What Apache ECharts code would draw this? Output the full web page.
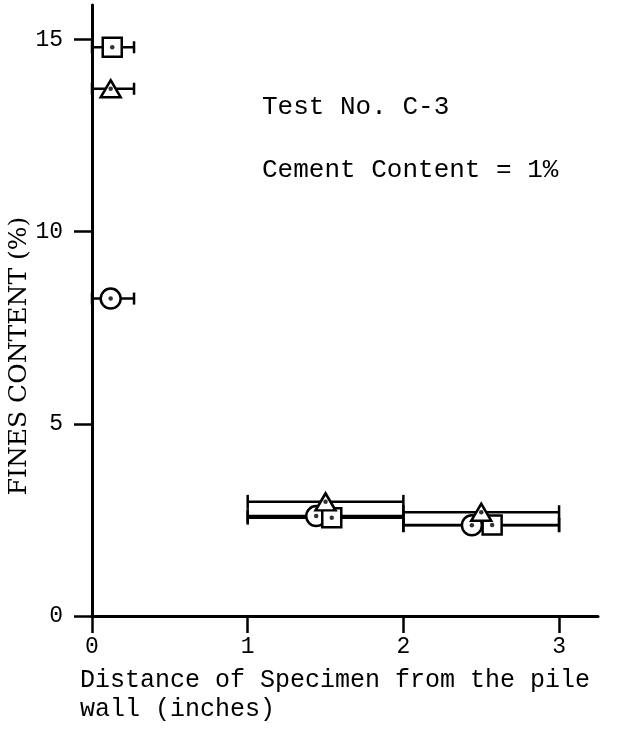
<!DOCTYPE html>
<html>
<head>
<meta charset="utf-8">
<script src="https://cdn.jsdelivr.net/npm/echarts@6/dist/echarts.min.js"></script>
<style>
    html, body {margin: 0; padding: 0; background: #fff;}
    #chart {width: 637px; height: 730px;}
</style>
</head>
<body>
<div id="chart"></div>
<script>
// distance from pile wall (inches) / fines content (%)
var squareX = [0.13, 1.54, 2.57];
var squareY = [14.8, 2.56, 2.37];
var triangleX = [0.12, 1.50, 2.50];
var triangleY = [13.72, 2.97, 2.70];
var circleX = [0.12, 1.44, 2.44];
var circleY = [8.26, 2.60, 2.36];
// horizontal span each specimen covers
var rangeFrom = [0, 1, 2];
var rangeTo = [0.27, 2, 3];
var xTicks = [0, 1, 2, 3];
var yTicks = [0, 5, 10, 15];

var mono = '"Liberation Mono", "DejaVu Sans Mono", monospace';

function pairs(xs, ys) {
    return xs.map(function (x, i) { return [x, ys[i]]; });
}
function spans(ys) {
    return ys.map(function (y, i) { return [rangeFrom[i], rangeTo[i], y]; });
}

/**horizontal range bar with end caps*/
function renderRange(params, api) {
    var a = api.coord([api.value(0), api.value(2)]);
    var b = api.coord([api.value(1), api.value(2)]);
    var h = api.value(1) < 1 ? 6 : 7;
    var st = {stroke: '#000', lineWidth: 2.5};
    return {
        type: 'group',
        children: [
            {type: 'line', shape: {x1: a[0], y1: a[1], x2: b[0], y2: b[1]}, style: st},
            {type: 'line', shape: {x1: a[0], y1: a[1] - h, x2: a[0], y2: a[1] + h}, style: st},
            {type: 'line', shape: {x1: b[0], y1: b[1] - h, x2: b[0], y2: b[1] + h}, style: st}
        ]
    };
}

function rangeSeries(ys) {
    return {
        type: 'custom',
        renderItem: renderRange,
        data: spans(ys),
        encode: {x: [0, 1], y: 2},
        z: 1,
        silent: true
    };
}

function markerSeries(xs, ys, symbol, size) {
    return {
        type: 'scatter',
        symbol: symbol,
        symbolSize: size,
        data: pairs(xs, ys),
        itemStyle: {color: '#fff', borderColor: '#000', borderWidth: 2.5, opacity: 1},
        z: 2,
        silent: true
    };
}

var chart = echarts.init(document.getElementById('chart'));
chart.setOption({
    animation: false,
    backgroundColor: '#fff',
    grid: {left: 92, right: 39, top: 5, bottom: 114},
    xAxis: {
        type: 'value',
        min: 0,
        max: 3.25,
        axisLine: {lineStyle: {color: '#000', width: 3}},
        axisTick: {customValues: xTicks, length: 17, lineStyle: {color: '#000', width: 2.5}},
        axisLabel: {customValues: xTicks, margin: 19, color: '#000', fontFamily: mono, fontSize: 23},
        splitLine: {show: false}
    },
    yAxis: {
        type: 'value',
        min: 0,
        max: 15.9,
        axisLine: {lineStyle: {color: '#000', width: 3}},
        axisTick: {customValues: yTicks, length: 18, lineStyle: {color: '#000', width: 2.5}},
        axisLabel: {customValues: yTicks, margin: 29, color: '#000', fontFamily: mono, fontSize: 23},
        splitLine: {show: false}
    },
    graphic: [
        {
            type: 'text', x: 19, y: 356, rotation: Math.PI / 2,
            style: {text: 'FINES CONTENT (%)', x: 0, y: 0, align: 'center', verticalAlign: 'middle',
                font: '25px "DejaVu Serif", serif', fill: '#000'}
        },
        {
            type: 'text', x: 262, y: 107,
            style: {text: 'Test No. C-3', align: 'left', verticalAlign: 'middle',
                font: '26px ' + mono, fill: '#000'}
        },
        {
            type: 'text', x: 262, y: 170,
            style: {text: 'Cement Content = 1%', align: 'left', verticalAlign: 'middle',
                font: '26px ' + mono, fill: '#000'}
        },
        {
            type: 'text', x: 80, y: 680,
            style: {text: 'Distance of Specimen from the pile', align: 'left', verticalAlign: 'middle',
                font: '25px ' + mono, fill: '#000'}
        },
        {
            type: 'text', x: 80, y: 709,
            style: {text: 'wall (inches)', align: 'left', verticalAlign: 'middle',
                font: '25px ' + mono, fill: '#000'}
        }
    ],
    series: [
        rangeSeries(triangleY),
        rangeSeries(circleY),
        rangeSeries(squareY),
        markerSeries(circleX, circleY, 'circle', 20),
        markerSeries(squareX, squareY, 'rect', 19),
        markerSeries(triangleX, triangleY, 'triangle', [20, 17]),
        {
            type: 'scatter',
            symbol: 'circle',
            symbolSize: 4.5,
            data: pairs(circleX, circleY).concat(pairs(squareX, squareY), pairs(triangleX, triangleY)),
            itemStyle: {color: '#000'},
            z: 3,
            silent: true
        }
    ]
});
</script>
</body>
</html>
